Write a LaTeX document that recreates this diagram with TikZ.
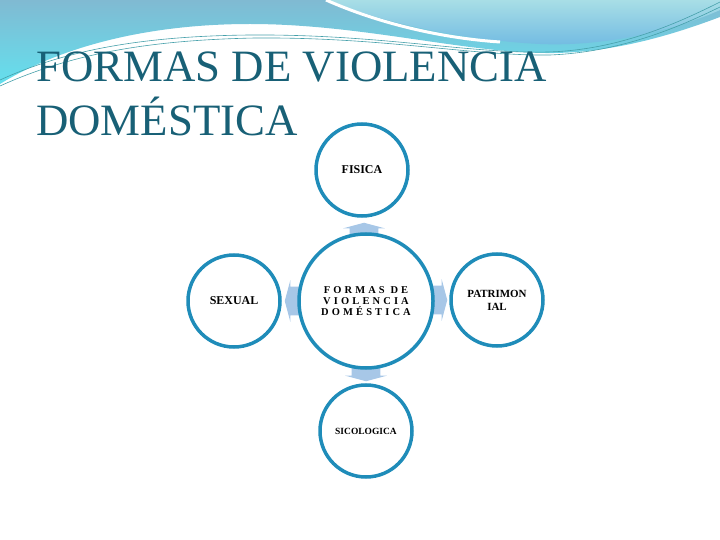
\documentclass[tikz,border=0pt]{standalone}
\usepackage{fontspec}
\setmainfont{Liberation Serif}
\newfontfamily\spacedfont[LetterSpace=30]{Liberation Serif}
\usetikzlibrary{shapes.arrows,calc,backgrounds}
\definecolor{ringblue}{RGB}{31,140,185}
\definecolor{arrowblue}{RGB}{167,199,231}
\definecolor{titleteal}{RGB}{24,96,118}
\definecolor{hdrtop}{RGB}{128,186,210}
\definecolor{hdrcyan}{RGB}{100,224,238}
\definecolor{lighttop}{RGB}{168,222,230}
\definecolor{lightbot}{RGB}{112,186,226}
\definecolor{hdrline}{RGB}{70,160,170}

\begin{document}
\begin{tikzpicture}[x=1bp,y=-1bp,
    ring/.style={circle, draw=ringblue, line width=3.5bp, fill=white, inner sep=0pt,
        minimum size=92bp, align=center, font=\bfseries\fontsize{12}{13}\selectfont},
    formarrow/.style={single arrow, shape border uses incircle, fill=arrowblue, draw=none,
        inner sep=10bp, outer sep=0pt, single arrow head extend=6.5bp,
        single arrow tip angle=150, anchor=tip}]
    \useasboundingbox (0,0) rectangle (720,540);
    % header
    \shade[top color=hdrtop, bottom color=hdrcyan]
        (0,0) -- (0,84) .. controls (55,50) and (140,24) .. (250,24)
        .. controls (360,24) and (460,52) .. (545,53)
        .. controls (615,54) and (680,32) .. (720,17) -- (720,0) -- cycle;
    \shade[top color=lighttop, bottom color=lightbot]
        (328,0) .. controls (380,22) and (460,40) .. (540,44)
        .. controls (610,47) and (680,28) .. (720,10) -- (720,0) -- cycle;
    \draw[white, line width=3bp] (326,0) .. controls (378,23) and (440,38) .. (500,42);
    \draw[hdrline, line width=0.6bp] (0,80) .. controls (70,48) and (150,36) .. (250,35)
        .. controls (380,34) and (470,54) .. (548,52) .. controls (620,50) and (680,22) .. (720,2);
    \draw[hdrline, line width=0.6bp] (0,86) .. controls (75,52) and (155,40) .. (255,38)
        .. controls (385,37) and (470,56) .. (550,55) .. controls (625,52) and (685,24) .. (720,7);
    % title
    \node[anchor=base west, inner sep=0pt, text=titleteal, font=\fontsize{45}{54}\selectfont]
        (titlea) at (36,82) {FORMAS DE VIOLENCIA};
    \node[anchor=base west, inner sep=0pt, text=titleteal, font=\fontsize{45}{54}\selectfont]
        (titleb) at (36,136) {DOMÉSTICA};
    % circles
    \node[ring, minimum size=134bp, font=\spacedfont\bfseries\fontsize{10.5}{11.3}\selectfont]
        (violencia) at (366,301) {FORMAS DE\\VIOLENCIA\\DOMÉSTICA};
    \node[ring] (fisica) at (362,170) {FISICA};
    \node[ring] (sexual) at (234,301) {SEXUAL};
    \node[ring, font=\bfseries\fontsize{11}{13}\selectfont] (patrimonial) at (497,300) {PATRIMON\\IAL};
    \node[ring, font=\bfseries\fontsize{9.5}{11}\selectfont] (sicologica) at (366,431) {SICOLOGICA};
    % arrows
    \begin{scope}[on background layer]
        \node[formarrow, shape border rotate=90] (afisica) at ($(fisica.south)+(2,5)$) {};
        \node[formarrow, shape border rotate=180] (asexual) at ($(sexual.east)+(3,0)$) {};
        \node[formarrow, shape border rotate=0] (apatrimonial) at ($(patrimonial.west)+(-2,0)$) {};
        \node[formarrow, shape border rotate=270] (asicologica) at ($(sicologica.north)+(0,-2)$) {};
    \end{scope}
\end{tikzpicture}
\end{document}
